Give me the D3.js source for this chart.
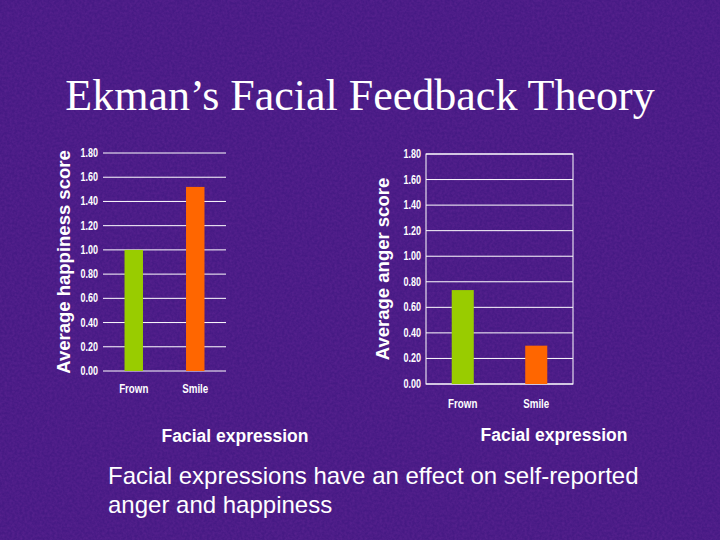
<!DOCTYPE html><html><head><script src="https://d3js.org/d3.v7.min.js"></script>
<style>body{margin:0;background:#3a1670}</style></head><body><svg id="c" width="720" height="540"></svg>
<script>
const categories=["Frown","Smile"];
const happiness=[1.00,1.52];
const anger=[0.735,0.30];
const tickLabels=["0.00","0.20","0.40","0.60","0.80","1.00","1.20","1.40","1.60","1.80"];
const colors=["#99cc00","#ff6600"];
const svg=d3.select("#c");
const defs=svg.append("defs");
const f=defs.append("filter").attr("id","n");
f.append("feTurbulence").attr("type","fractalNoise").attr("baseFrequency","0.4").attr("numOctaves",2).attr("seed",3);
f.append("feColorMatrix").attr("values","0 0 0 0 0.12 0 0 0 0 0.02 0 0 0 0 0.3 0 0 0 -1.6 1.2");
svg.append("rect").attr("width",720).attr("height",540).attr("fill","#461a84");
svg.append("rect").attr("width",720).attr("height",540).attr("filter","url(#n)").attr("opacity",0.6);
svg.append("text").attr("x",360).attr("y",110).attr("text-anchor","middle").attr("font-family","Liberation Serif").attr("font-size",44).attr("fill","#fff").text("Ekman’s Facial Feedback Theory");
function chart(vals,x0,x1,y0,y1,box,title,titleX,labelX,catY){
  const x=d3.scaleBand().domain(categories).range([x0,x1]).paddingInner(0.7).paddingOuter(0.35);
  const y=d3.scaleLinear().domain([0,1.8]).range([y0,y1]);
  const g=svg.append("g");
  tickLabels.forEach(t=>{const v=+t;
    g.append("line").attr("x1",x0).attr("x2",x1).attr("y1",y(v)).attr("y2",y(v)).attr("stroke","#fff").attr("stroke-width",1);
    g.append("text").attr("x",labelX).attr("y",y(v)+4).attr("text-anchor","end").attr("font-family","Liberation Sans").attr("font-weight","bold").attr("font-size",12).attr("fill","#fff").attr("transform",`translate(${labelX},0) scale(0.75,1) translate(${-labelX},0)`).text(t);});
  if(box)g.append("rect").attr("x",x0).attr("y",y1).attr("width",x1-x0).attr("height",y0-y1).attr("fill","none").attr("stroke","#fff");
  g.selectAll(".b").data(vals).join("rect").attr("x",(d,i)=>x(categories[i])).attr("width",x.bandwidth()).attr("y",d=>y(d)).attr("height",d=>y0-y(d)).attr("fill",(d,i)=>colors[i]);
  categories.forEach(c=>g.append("text").attr("x",x(c)+x.bandwidth()/2).attr("y",catY).attr("text-anchor","middle").attr("font-family","Liberation Sans").attr("font-weight","bold").attr("font-size",13).attr("fill","#fff").attr("transform",`translate(${x(c)+x.bandwidth()/2},0) scale(0.75,1) translate(${-(x(c)+x.bandwidth()/2)},0)`).text(c));
  g.append("text").attr("transform",`translate(${titleX},${(y0+y1)/2}) rotate(-90)`).attr("text-anchor","middle").attr("font-family","Liberation Sans").attr("font-weight","bold").attr("font-size",18.5).attr("fill","#fff").text(title);
}
chart(happiness,103,226,371,153,false,"Average happiness score",70,98,393);
chart(anger,426,573,384,154,true,"Average anger score",389,421,408);
const t=(x,y,s,txt,a,fw)=>svg.append("text").attr("x",x).attr("y",y).attr("text-anchor",a).attr("font-family","Liberation Sans").attr("font-weight",fw).attr("font-size",s).attr("fill","#fff").text(txt);
t(235,442,17.5,"Facial expression","middle","bold");
t(554,441,17.5,"Facial expression","middle","bold");
t(108,484,24,"Facial expressions have an effect on self-reported","start","normal");
t(108,513,24,"anger and happiness","start","normal");
</script></body></html>
